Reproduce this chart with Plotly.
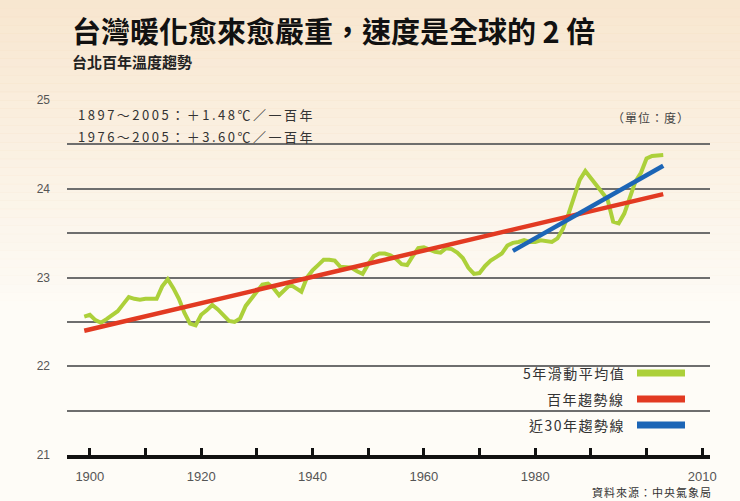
import plotly.graph_objects as go

# ---- data ----
years = list(range(1899, 2004))
ma5 = [22.56, 22.58, 22.52, 22.49, 22.53, 22.57, 22.62, 22.70, 22.78, 22.76,
       22.75, 22.76, 22.76, 22.76, 22.90, 22.98, 22.88, 22.76, 22.60, 22.48,
       22.46, 22.58, 22.63, 22.69, 22.64, 22.57, 22.51, 22.50, 22.54, 22.68,
       22.76, 22.84, 22.92, 22.93, 22.88, 22.80, 22.86, 22.92, 22.88, 22.84,
       23.00, 23.08, 23.14, 23.20, 23.20, 23.19, 23.12, 23.12, 23.11, 23.07,
       23.04, 23.15, 23.24, 23.27, 23.27, 23.25, 23.21, 23.15, 23.14, 23.24,
       23.33, 23.34, 23.31, 23.29, 23.28, 23.33, 23.32, 23.28, 23.22, 23.11,
       23.04, 23.05, 23.13, 23.19, 23.23, 23.27, 23.36, 23.39, 23.40, 23.42,
       23.40, 23.40, 23.42, 23.41, 23.40, 23.44, 23.55, 23.72, 23.92, 24.10,
       24.20, 24.12, 24.03, 23.95, 23.88, 23.63, 23.61, 23.72, 23.90, 24.08,
       24.18, 24.34, 24.37, 24.37, 24.38]
trend100_years = [1899, 2003]
trend100_vals = [22.40, 23.94]
trend30_years = [1976, 2003]
trend30_vals = [23.30, 24.26]

y_tickvals = [21, 21.5, 22, 22.5, 23, 23.5, 24, 24.5, 25]
y_ticktext = ["21", "", "22", "", "23", "", "24", "", "25"]
x_tickvals = list(range(1900, 2011, 10))
x_ticktext = ["1900", "", "1920", "", "1940", "", "1960", "", "1980", "", "", "2010"]

title = "台灣暖化愈來愈嚴重，速度是全球的 2 倍"
subtitle = "台北百年溫度趨勢"
note1 = "1897～2005：＋1.48℃／一百年"
note2 = "1976～2005：＋3.60℃／一百年"
unit = "（單位：度）"
legend_names = ["5年滑動平均值", "百年趨勢線", "近30年趨勢線"]
source = "資料來源：中央氣象局"

GREEN = "#acd03a"
RED = "#e23a22"
BLUE = "#1c65b6"
CJK = "Noto Sans CJK TC, sans-serif"
NUM = "Liberation Sans, Arial, sans-serif"

W, H = 740, 501
L, R, T, B = 67, 30, 100, 46
PW, PH = W - L - R, H - T - B


def px(x):
    return (x - L) / PW


def py(y):
    return 1 - (y - T) / PH


def spaced(s, sp):
    return '<span style="letter-spacing:%spx">%s</span>' % (sp, s)


fig = go.Figure()
fig.add_trace(go.Scatter(x=years, y=ma5, mode="lines",
                         line=dict(color=GREEN, width=4), name=legend_names[0]))
fig.add_trace(go.Scatter(x=trend100_years, y=trend100_vals, mode="lines",
                         line=dict(color=RED, width=4.5), name=legend_names[1]))
fig.add_trace(go.Scatter(x=trend30_years, y=trend30_vals, mode="lines",
                         line=dict(color=BLUE, width=4.5), name=legend_names[2]))

shapes = []
# background gradient bands (warm at top fading to near white)
n = 60
for i in range(n):
    ya = i * H / n
    yb = (i + 1) * H / n + 0.5
    frac = (i + 0.5) / n
    op = max(0.0, 0.85 * (1 - frac / 0.62))
    if op <= 0:
        continue
    shapes.append(dict(type="rect", xref="paper", yref="paper",
                       x0=px(-5), x1=px(W + 5), y0=py(yb), y1=py(ya),
                       fillcolor="#f6e2c8", opacity=op, line_width=0, layer="below"))

# legend glyphs
leg_y = [373, 399, 425]
leg_cols = [GREEN, RED, BLUE]
for yy, c in zip(leg_y, leg_cols):
    shapes.append(dict(type="line", xref="paper", yref="paper",
                       x0=px(637), x1=px(685), y0=py(yy), y1=py(yy),
                       line=dict(color=c, width=7)))

annotations = [
    dict(text="<b>" + title + "</b>", xref="paper", yref="paper",
         x=px(70), y=py(30), xanchor="left", yanchor="middle",
         showarrow=False, font=dict(family=CJK, size=29, color="#111")),
    dict(text="<b>" + subtitle + "</b>", xref="paper", yref="paper",
         x=px(70), y=py(62), xanchor="left", yanchor="middle",
         showarrow=False, font=dict(family=CJK, size=15, color="#222")),
    dict(text=spaced(note1, 2.5), xref="paper", yref="paper",
         x=px(76), y=py(115), xanchor="left", yanchor="middle",
         showarrow=False, font=dict(family=CJK, size=13, color="#333")),
    dict(text=spaced(note2, 2.5), xref="paper", yref="paper",
         x=px(76), y=py(136), xanchor="left", yanchor="middle",
         showarrow=False, font=dict(family=CJK, size=13, color="#333")),
    dict(text=spaced(unit, 1), xref="paper", yref="paper",
         x=px(692), y=py(117), xanchor="right", yanchor="middle",
         showarrow=False, font=dict(family=CJK, size=12, color="#444")),
    dict(text=spaced(source, 1), xref="paper", yref="paper",
         x=px(714), y=py(492), xanchor="right", yanchor="middle",
         showarrow=False, font=dict(family=CJK, size=11, color="#333")),
]
for yy, name in zip(leg_y, legend_names):
    annotations.append(dict(text=spaced(name, 1.5), xref="paper", yref="paper",
                            x=px(627), y=py(yy),
                            xanchor="right", yanchor="middle", showarrow=False,
                            font=dict(family=CJK, size=14, color="#333")))

fig.update_layout(
    width=W, height=H,
    margin=dict(l=L, r=R, t=T, b=B),
    paper_bgcolor="#fefcf7",
    plot_bgcolor="rgba(0,0,0,0)",
    showlegend=False,
    shapes=shapes,
    annotations=annotations,
    xaxis=dict(range=[1895.9, 2011.4], tickvals=x_tickvals, ticktext=x_ticktext,
               showgrid=False, zeroline=False, showline=True, linecolor="#111",
               linewidth=4, ticks="inside", ticklen=7, tickwidth=3, tickcolor="#111",
               tickfont=dict(family=NUM, size=13, color="#555"), ticklabelstandoff=6),
    yaxis=dict(range=[21, 25], tickvals=y_tickvals, ticktext=y_ticktext,
               showgrid=True, gridcolor="#6e6e6e", gridwidth=2, zeroline=False,
               showline=False, ticks="", ticklabelstandoff=16,
               tickfont=dict(family=NUM, size=12, color="#555")),
)

fig.write_html("out.html", config={"displayModeBar": False},
               post_script="document.body.style.margin='0';document.body.style.padding='0';")
